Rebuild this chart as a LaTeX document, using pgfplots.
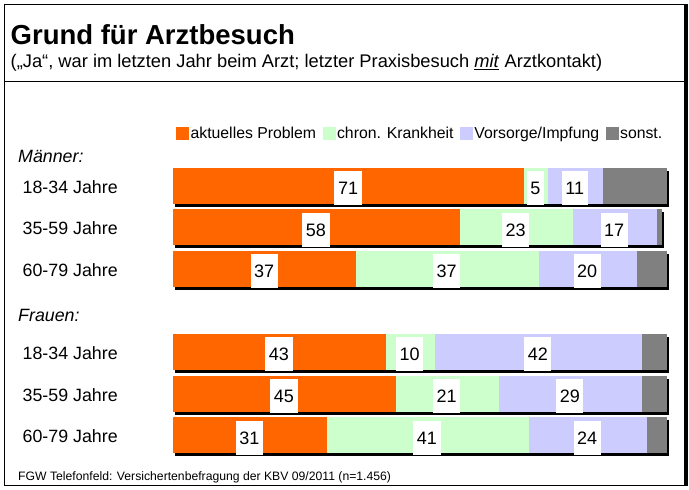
\documentclass[border=0pt]{standalone}
\usepackage{pgfplots}
\usepackage{pgfplotstable}
\pgfplotsset{compat=1.18}
\usepackage{fontspec}
\setmainfont{Liberation Sans}

\definecolor{problem}{HTML}{FF6600}
\definecolor{chronisch}{HTML}{CCFFCC}
\definecolor{vorsorge}{HTML}{CCCCFF}
\definecolor{sonstiges}{HTML}{808080}

% row: 0-2 Maenner, 4-6 Frauen (3 bleibt frei fuer "Frauen:")
\pgfplotstableread{
row prob chron vors sonst
0 71 5 11 13
1 58 23 17 1
2 37 37 20 6
4 43 10 42 5
5 45 21 29 5
6 31 41 24 4
}\besuch

\pgfplotsset{
  barbase/.style={
    xbar stacked,
    scale only axis,
    width=493bp, height=312bp,
    xmin=0, xmax=100,
    ymin=-1, ymax=6.5,
    y dir=reverse,
    enlargelimits=false,
    bar width=35bp,
    clip=false,
  },
  wert/.style={
    point meta=explicit symbolic,
    nodes near coords={\pgfplotspointmeta},
  },
  segment/.style={fill=#1, draw=#1, line width=0.4bp,
    legend image code/.code={\fill[#1] (0bp,-1bp) rectangle (12bp,11.6bp);}},
}

\begin{document}
\begin{tikzpicture}

% Schatten
\begin{axis}[barbase, hide axis, at={(175bp,-146.9bp)}, anchor=north west]
  \addplot[segment=black] table[x=prob, y=row]{\besuch};
  \addplot[segment=black] table[x=chron, y=row]{\besuch};
  \addplot[segment=black] table[x=vors, y=row]{\besuch};
  \addplot[segment=black] table[x=sonst, y=row]{\besuch};
\end{axis}

\begin{axis}[barbase, at={(173bp,-143.9bp)}, anchor=north west,
  axis line style={draw=none},
  tick style={draw=none},
  major tick length=0pt,
  xtick=\empty,
  ytick={-0.736,0,1,2,3.091,4,5,6},
  yticklabels={\hspace*{-4.5bp}\textit{Männer:}, 18-34 Jahre, 35-59 Jahre, 60-79 Jahre,
    \hspace*{-4.5bp}\textit{Frauen:}, 18-34 Jahre, 35-59 Jahre, 60-79 Jahre},
  yticklabel style={anchor=base west, inner sep=0pt, xshift=-150.5bp, yshift=-7.8bp,
    font=\fontsize{17.8bp}{20bp}\selectfont},
  every node near coord/.append style={
    anchor=center, yshift=-2.5bp,
    fill=white, draw=none, inner xsep=3.6bp, inner ysep=0pt,
    minimum height=34bp, text height=13bp, text depth=0pt,
    font=\fontsize{18bp}{20bp}\selectfont},
  legend columns=4,
  legend style={at={(0.00609,1.0554)}, anchor=north west, draw=none, fill=none,
    inner sep=0pt, cells={anchor=base west}, nodes={inner sep=0pt},
    font=\fontsize{15.8bp}{18bp}\selectfont,
    /tikz/every odd column/.append style={column sep=2bp},
    /tikz/every even column/.append style={column sep=6.5bp}},
]
  \addplot[segment=problem, wert] table[x=prob, y=row, meta=prob]{\besuch};
  \addplot[segment=chronisch, wert] table[x=chron, y=row, meta=chron]{\besuch};
  \addplot[segment=vorsorge, wert] table[x=vors, y=row, meta=vors]{\besuch};
  \addplot[segment=sonstiges] table[x=sonst, y=row]{\besuch};
  \legend{aktuelles Problem, chron. Krankheit, Vorsorge/Impfung, sonst.}
\end{axis}

\node[anchor=base west, inner sep=0pt, font=\fontsize{27.5bp}{30bp}\selectfont\bfseries]
  at (10.5bp,-44.3bp) {Grund für Arztbesuch};
\node[anchor=base west, inner sep=0pt, font=\fontsize{18.3bp}{20bp}\selectfont]
  at (10.5bp,-67.3bp) {(„Ja“, war im letzten Jahr beim Arzt; letzter Praxisbesuch \underline{\textit{mit}} Arztkontakt)};
\node[anchor=base west, inner sep=0pt, font=\fontsize{12.2bp}{14bp}\selectfont]
  at (18bp,-480.7bp) {FGW Telefonfeld: Versichertenbefragung der KBV 09/2011 (n=1.456)};

\draw[line width=1.3bp] (4.5bp,-4.5bp) rectangle (685bp,-485.7bp);
\fill (684bp,-3.85bp) rectangle (688bp,-486.35bp);
\draw[line width=1.3bp] (4.5bp,-81.7bp) -- (685bp,-81.7bp);

\pgfresetboundingbox
\path[use as bounding box] (0bp,0bp) rectangle (689bp,-490bp);
\end{tikzpicture}
\end{document}
